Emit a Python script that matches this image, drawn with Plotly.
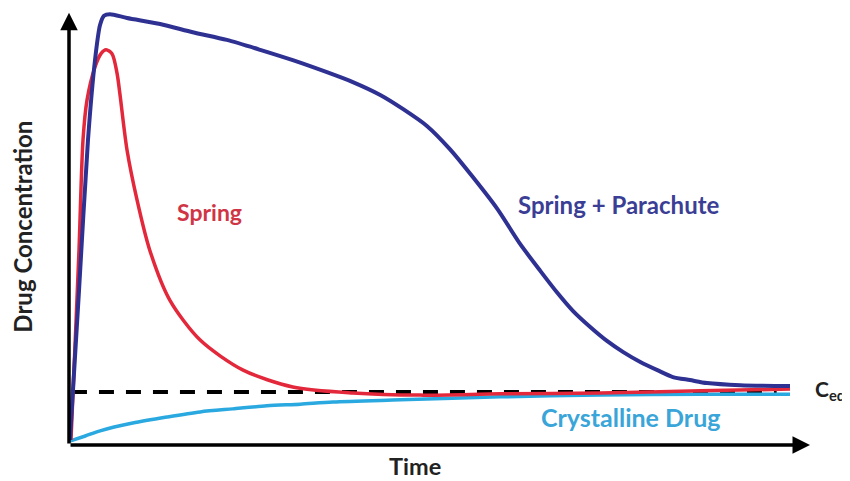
import plotly.graph_objects as go

# Time / concentration readings (arbitrary units, 0-100)
para_t = [0.13, 1.35, 2.56, 3.51, 4.18, 4.72, 5.53, 7.83, 12.3, 16.7, 21.3, 25.8, 30.2, 34.8, 38.3, 42.0, 45.1, 48.3, 51.4, 54.5, 57.8, 60.9, 63.6, 65.9, 68.0, 70.3, 72.6, 74.8, 77.1, 79.4, 81.5, 83.8, 86.1, 90.6, 97.3]
para_c = [1.2, 35.9, 70.9, 89.5, 97.6, 99.8, 100.2, 99.3, 97.9, 96.0, 94.2, 91.9, 89.5, 86.7, 84.4, 81.4, 78.1, 74.2, 68.8, 62.3, 54.9, 46.7, 40.5, 35.4, 31.2, 27.5, 24.2, 21.6, 19.3, 17.4, 15.8, 15.1, 14.4, 13.9, 13.7]

spring_t = [0.27, 0.54, 1.35, 1.89, 2.43, 3.51, 4.32, 5.00, 5.80, 6.48, 6.88, 7.83, 9.18, 10.9, 13.6, 17.7, 23.5, 30.2, 38.3, 47.4, 58.2, 71.7, 85.2, 97.3]
spring_c = [1.2, 12.1, 45.3, 70.9, 80.2, 87.9, 91.0, 91.9, 91.0, 86.5, 81.5, 68.6, 57.0, 45.3, 33.7, 24.4, 17.4, 13.5, 12.1, 11.6, 11.9, 12.1, 12.6, 13.0]

cryst_t = [0.1, 2.2, 4.2, 8.6, 13.2, 17.7, 22.1, 26.7, 31.2, 35.6, 44.7, 58.2, 71.7, 85.2, 97.3]
cryst_c = [0.9, 2.1, 3.3, 5.1, 6.5, 7.7, 8.4, 9.1, 9.5, 10.0, 10.5, 11.2, 11.6, 11.8, 11.8]

ceq_t = [0.4, 95.5]
ceq_c = [12.3, 12.3]

BLUE = "#2e3192"
RED = "#e2283a"
CYAN = "#2aa8e0"
FONT = "Lato"

fig = go.Figure()
fig.add_trace(go.Scatter(x=ceq_t, y=ceq_c, mode="lines",
                         line=dict(color="black", width=4, dash="15px,12px")))
fig.add_trace(go.Scatter(x=cryst_t, y=cryst_c, mode="lines", line_shape="spline",
                         line=dict(color=CYAN, width=3.5, smoothing=0.8)))
fig.add_trace(go.Scatter(x=spring_t, y=spring_c, mode="lines", line_shape="spline",
                         line=dict(color=RED, width=3.5, smoothing=0.8)))
fig.add_trace(go.Scatter(x=para_t, y=para_c, mode="lines", line_shape="spline",
                         line=dict(color=BLUE, width=4, smoothing=0.7)))

# axes as arrows
fig.add_annotation(x=0, y=100.5, ax=0, ay=0, xref="x", yref="y", axref="x", ayref="y",
                   showarrow=True, arrowhead=2, arrowsize=1, arrowwidth=3.5, arrowcolor="black", text="")
fig.add_annotation(x=100, y=0, ax=0, ay=0, xref="x", yref="y", axref="x", ayref="y",
                   showarrow=True, arrowhead=2, arrowsize=1, arrowwidth=3.5, arrowcolor="black", text="")

def label(txt, x, y, color, size, ref="", angle=0, xanchor="center"):
    fig.add_annotation(x=x, y=y, xref="paper" if ref else "x", yref="paper" if ref else "y",
                       text=txt, showarrow=False, textangle=angle,
                       xanchor=xanchor, yanchor="middle", borderpad=0,
                       font=dict(family=FONT, size=size, color=color, weight="bold"))

label("Spring", 19.0, 54.2, "#cf3545", 23)
label("Spring + Parachute", 74.2, 56.0, "#3b3e95", 24)
label("Crystalline Drug", 75.8, 6.6, "#3aa5d8", 25)
label("C<sub>eq</sub>", 1.005, 0.127, "#222222", 21, ref="p", xanchor="left")
label("Time", 0.4676, -0.048, "#222222", 23.5, ref="p")
label("Drug Concentration", -0.064, 0.501, "#222222", 24, ref="p", angle=-90)

fig.update_layout(
    width=850, height=481,
    margin=dict(l=61, r=48, t=2, b=44),
    paper_bgcolor="white", plot_bgcolor="white",
    showlegend=False,
    xaxis=dict(range=[0, 100], visible=False),
    yaxis=dict(range=[0, 101.16], visible=False),
)
fig.write_html("out.html")
